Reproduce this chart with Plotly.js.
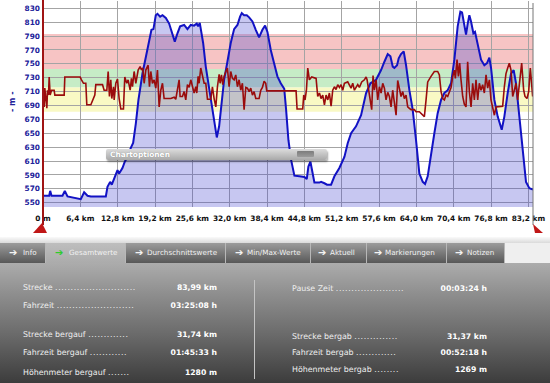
<!DOCTYPE html>
<html><head><meta charset="utf-8">
<script src="https://cdn.plot.ly/plotly-3.0.1.min.js"></script>
<style>
html,body{margin:0;padding:0;background:#fff;width:550px;height:383px;overflow:hidden;font-family:'DejaVu Sans',sans-serif;}
#chart{position:absolute;left:0;top:0;width:550px;height:240px;}
.strip{position:absolute;left:0;top:237px;width:550px;height:6px;background:linear-gradient(#fafafa,#dadada);}
.tabbar{position:absolute;left:0;top:243px;width:550px;height:20px;background:#efefef;}
.tab{position:absolute;top:0;height:20px;background:linear-gradient(#9c9c9c,#585858);border-right:1px solid #b8b8b8;box-sizing:border-box;}
.tab.active{background:linear-gradient(#bebebe,#ababab);}
.arr{position:absolute;top:2px;font-size:10px;line-height:16px;font-weight:bold;color:#f4f4f4;}
.arr.g{color:#2ecc2e;}
.tt{position:absolute;top:5px;font-size:7.2px;line-height:10px;color:#f2f2f2;white-space:nowrap;}
.panel{position:absolute;left:0;top:263px;width:550px;height:120px;background:linear-gradient(#acacac 0%,#8f8f8f 25%,#6a6a6a 60%,#3c3c3c 100%);}
.lab{position:absolute;font-size:7.9px;line-height:10px;color:#efefef;white-space:nowrap;}
.dots{letter-spacing:0.6px;}
.val{position:absolute;width:90px;font-size:7.7px;font-weight:bold;line-height:10px;color:#fff;text-align:right;white-space:nowrap;}
.sep{position:absolute;left:254px;top:280px;width:1px;height:99px;background:#c4c4c4;}
.opt{position:absolute;left:106px;top:149px;width:221px;height:11px;background:linear-gradient(#dcdcdc,#a9a9a9);border-radius:2px;box-shadow:1px 2px 2px rgba(0,0,0,0.35);}
.opt span{position:absolute;left:4px;top:1px;font-size:7.4px;line-height:9px;font-weight:bold;color:#fff;text-shadow:0 0 1px rgba(0,0,0,0.35);}
.opt .btn{position:absolute;left:191px;top:2px;width:17px;height:6px;background:linear-gradient(#7c7c7c,#9a9a9a);border-radius:1px;}
</style></head>
<body>
<div id="chart"></div>
<div class="opt"><span>Chartoptionen</span><div class="btn"></div></div>
<div class="strip"></div>
<div class="tabbar">
  <div class="tab" style="left:0;width:46px"><span class="arr" style="left:9px">➔</span><span class="tt" style="left:23px">Info</span></div>
  <div class="tab active" style="left:46px;width:80px"><span class="arr g" style="left:9px">➔</span><span class="tt" style="left:23px">Gesamtwerte</span></div>
  <div class="tab" style="left:126px;width:100px"><span class="arr" style="left:9px">➔</span><span class="tt" style="left:21px">Durchschnittswerte</span></div>
  <div class="tab" style="left:226px;width:85px"><span class="arr" style="left:9px">➔</span><span class="tt" style="left:21px">Min/Max-Werte</span></div>
  <div class="tab" style="left:311px;width:56px"><span class="arr" style="left:7px">➔</span><span class="tt" style="left:19px">Aktuell</span></div>
  <div class="tab" style="left:367px;width:80px"><span class="arr" style="left:7px">➔</span><span class="tt" style="left:18px">Markierungen</span></div>
  <div class="tab" style="left:447px;width:58px"><span class="arr" style="left:8px">➔</span><span class="tt" style="left:20px">Notizen</span></div>
</div>
<div class="panel"></div>
<div class="sep"></div>
<div class="lab" style="left:23px;top:283px">Strecke <span class="dots">..........................</span></div>
<div class="val" style="left:127px;top:283px">83,99 km</div>
<div class="lab" style="left:23px;top:301px">Fahrzeit <span class="dots">.........................</span></div>
<div class="val" style="left:127px;top:301px">03:25:08 h</div>
<div class="lab" style="left:23px;top:330px">Strecke bergauf <span class="dots">.............</span></div>
<div class="val" style="left:127px;top:330px">31,74 km</div>
<div class="lab" style="left:23px;top:348px">Fahrzeit bergauf <span class="dots">............</span></div>
<div class="val" style="left:127px;top:348px">01:45:33 h</div>
<div class="lab" style="left:23px;top:368px">Höhenmeter bergauf <span class="dots">.......</span></div>
<div class="val" style="left:127px;top:368px">1280 m</div>
<div class="lab" style="left:292px;top:284px">Pause Zeit <span class="dots">......................</span></div>
<div class="val" style="left:397px;top:284px">00:03:24 h</div>
<div class="lab" style="left:292px;top:332px">Strecke bergab <span class="dots">..............</span></div>
<div class="val" style="left:397px;top:332px">31,37 km</div>
<div class="lab" style="left:292px;top:348px">Fahrzeit bergab <span class="dots">.............</span></div>
<div class="val" style="left:397px;top:348px">00:52:18 h</div>
<div class="lab" style="left:292px;top:365px">Höhenmeter bergab <span class="dots">........</span></div>
<div class="val" style="left:397px;top:365px">1269 m</div>
<script>
// Distance ticks
var xTickVals = [0, 6.4, 12.8, 19.2, 25.6, 32.0, 38.4, 44.8, 51.2, 57.6, 64.0, 70.4, 76.8, 83.2];
var xTickText = ['0 m', '6,4 km', '12,8 km', '19,2 km', '25,6 km', '32,0 km', '38,4 km', '44,8 km', '51,2 km', '57,6 km', '64,0 km', '70,4 km', '76,8 km', '83,2 km'];
var yTickVals = [550, 570, 590, 610, 630, 650, 670, 690, 710, 730, 750, 770, 790, 810, 830];

// Elevation profile (km, m)
var elevKm = [0, 1.06, 1.23, 1.46, 3.34, 3.74, 4.20, 5.34, 6.48, 7.05, 7.63, 8.20, 10.77, 11.05, 11.51, 11.79, 12.08, 12.77, 13.05, 13.62, 14.02, 14.48, 15.05, 15.45, 15.91, 16.36, 17.05, 17.62, 18.19, 18.59, 18.93, 19.33, 19.62, 20.08, 20.48, 21.05, 21.62, 22.19, 22.59, 23.05, 23.50, 24.19, 24.76, 25.33, 25.90, 26.36, 26.59, 26.87, 27.04, 27.45, 27.90, 28.47, 28.87, 29.33, 29.79, 30.19, 30.64, 31.04, 31.61, 32.18, 32.76, 33.33, 33.78, 34.07, 34.47, 34.93, 35.33, 35.90, 36.47, 37.04, 37.61, 38.07, 38.47, 39.04, 39.61, 40.18, 40.75, 41.35, 41.67, 42.07, 42.52, 43.09, 43.95, 44.81, 45.21, 45.49, 45.84, 46.24, 46.52, 47.38, 47.66, 48.24, 48.69, 49.38, 49.95, 50.80, 51.66, 52.24, 52.81, 53.66, 54.52, 55.38, 56.12, 57.09, 57.95, 58.52, 59.09, 59.55, 59.95, 60.23, 60.69, 60.97, 61.37, 61.83, 62.23, 62.80, 63.37, 63.94, 64.51, 65.09, 65.49, 65.94, 66.51, 67.08, 67.65, 68.23, 68.80, 69.37, 69.94, 70.51, 71.08, 71.54, 71.83, 72.22, 72.51, 72.80, 73.08, 73.37, 73.77, 74.05, 74.51, 75.08, 75.65, 76.11, 76.51, 76.80, 77.37, 77.94, 78.63, 79.08, 79.65, 80.22, 80.68, 81.08, 81.65, 82.22, 82.79, 83.36, 83.99];
var elevM = [560, 560, 567, 560, 560, 567, 559, 557, 555, 565, 560, 559, 559, 573, 580, 576, 583, 597, 592, 600, 609, 616, 629, 636, 664, 698, 736, 758, 784, 799, 800, 820, 822, 818, 820, 816, 808, 794, 782, 794, 804, 806, 800, 806, 805, 808, 804, 809, 801, 780, 746, 717, 693, 669, 644, 660, 693, 727, 753, 780, 800, 806, 818, 823, 820, 820, 817, 811, 799, 788, 799, 805, 796, 770, 751, 732, 722, 714, 684, 640, 612, 589, 588, 587, 584, 602, 609, 588, 579, 579, 580, 578, 576, 576, 588, 600, 616, 636, 650, 660, 676, 708, 722, 727, 741, 753, 764, 761, 746, 744, 748, 758, 764, 768, 748, 712, 684, 640, 592, 580, 577, 588, 616, 650, 679, 698, 708, 712, 722, 756, 804, 825, 824, 806, 792, 808, 820, 811, 794, 796, 780, 756, 748, 751, 759, 744, 698, 674, 655, 674, 708, 736, 741, 722, 674, 626, 580, 571, 569];

// Second series (red), read on the same vertical scale
var hrKm = [0.09, 0.20, 0.31, 0.49, 0.66, 0.77, 0.94, 1.06, 1.23, 1.46, 1.91, 2.03, 3.63, 3.74, 6.37, 6.60, 6.94, 7.34, 7.51, 8.20, 8.48, 8.88, 9.05, 10.20, 10.48, 10.94, 11.17, 11.39, 11.62, 11.79, 12.08, 12.20, 12.48, 12.77, 13.05, 13.34, 13.79, 14.02, 14.36, 14.59, 14.94, 15.16, 15.34, 15.62, 15.91, 16.31, 16.65, 16.88, 17.11, 17.34, 17.62, 18.02, 18.25, 18.48, 18.76, 19.05, 19.33, 19.62, 19.91, 20.19, 20.48, 20.76, 21.90, 22.48, 22.76, 23.05, 23.33, 23.50, 23.90, 24.19, 24.47, 24.76, 25.05, 25.33, 25.62, 25.90, 26.19, 26.36, 26.59, 26.76, 27.04, 27.33, 27.62, 27.90, 28.19, 28.76, 29.04, 29.33, 29.62, 29.90, 30.19, 30.36, 30.59, 30.81, 31.04, 31.39, 31.61, 31.90, 32.18, 32.47, 32.76, 33.04, 33.33, 33.61, 33.90, 34.18, 34.47, 34.76, 35.04, 35.33, 35.61, 35.90, 36.18, 36.47, 37.04, 37.33, 37.61, 37.90, 38.18, 38.35, 43.38, 43.55, 44.52, 44.69, 44.92, 45.15, 45.38, 45.66, 46.06, 46.81, 47.09, 47.38, 47.66, 47.95, 48.24, 48.52, 48.81, 49.09, 49.38, 49.66, 49.95, 50.23, 50.52, 50.81, 51.09, 51.38, 51.66, 52.23, 52.52, 52.80, 53.09, 53.38, 53.66, 53.95, 54.23, 54.63, 55.09, 55.38, 55.55, 55.77, 56.00, 56.12, 56.34, 56.57, 56.80, 57.09, 57.37, 57.66, 57.95, 58.23, 58.52, 58.80, 59.09, 59.37, 59.66, 59.94, 60.23, 60.52, 60.80, 61.09, 61.37, 61.66, 61.94, 62.23, 62.51, 62.80, 63.09, 63.66, 63.94, 64.51, 64.80, 65.08, 65.37, 65.66, 65.94, 66.51, 67.08, 67.65, 67.94, 68.23, 68.51, 68.80, 69.08, 69.37, 69.65, 69.94, 70.23, 70.51, 70.68, 70.97, 71.20, 71.42, 71.65, 71.94, 72.22, 72.51, 72.79, 73.08, 73.37, 73.65, 73.94, 74.22, 74.51, 74.79, 75.08, 75.36, 75.65, 75.94, 76.22, 76.51, 76.79, 77.08, 77.37, 77.65, 78.51, 78.79, 79.08, 79.36, 79.65, 79.93, 80.22, 80.51, 80.79, 81.08, 81.36, 81.65, 82.05, 82.39, 82.62, 82.96, 83.25, 83.53, 83.76, 83.93];
var hrVal = [708, 688, 715, 703, 686, 712, 705, 731, 705, 712, 712, 705, 705, 731, 731, 727, 722, 722, 691, 691, 698, 705, 720, 720, 712, 712, 739, 703, 727, 700, 717, 698, 722, 728, 700, 685, 685, 731, 722, 727, 712, 729, 717, 739, 722, 741, 746, 741, 744, 722, 741, 748, 717, 739, 722, 727, 715, 741, 688, 712, 722, 700, 700, 702, 699, 712, 727, 703, 703, 710, 698, 720, 716, 727, 717, 708, 717, 708, 732, 722, 744, 732, 722, 722, 699, 699, 717, 700, 688, 717, 735, 722, 734, 720, 732, 740, 744, 717, 739, 729, 727, 734, 717, 727, 712, 722, 684, 716, 715, 710, 715, 705, 710, 700, 700, 712, 716, 725, 722, 711, 711, 685, 685, 705, 698, 712, 744, 727, 731, 729, 703, 708, 700, 705, 691, 705, 698, 708, 689, 712, 717, 713, 720, 716, 720, 712, 722, 724, 720, 715, 722, 712, 716, 720, 716, 724, 727, 731, 727, 716, 700, 698, 684, 733, 712, 727, 698, 717, 708, 722, 715, 698, 709, 703, 688, 712, 696, 676, 726, 715, 703, 710, 700, 705, 688, 686, 684, 684, 681, 681, 679, 676, 674, 698, 724, 732, 739, 739, 734, 710, 700, 698, 705, 703, 710, 716, 732, 741, 729, 756, 732, 751, 727, 703, 692, 688, 753, 710, 688, 722, 698, 727, 698, 722, 712, 720, 708, 734, 715, 727, 698, 686, 676, 688, 689, 689, 717, 736, 744, 751, 741, 703, 712, 722, 698, 722, 751, 712, 703, 700, 710, 744, 722, 703];

// Zone bands [from, to]
var zoneRed = [742.6, 793];
var zoneGreen = [716, 742.6];
var zoneYellow = [681, 716];

var traces = [
  {x: elevKm, y: elevM, type: 'scatter', mode: 'lines', fill: 'tozeroy',
   fillcolor: 'rgba(70,70,210,0.30)', line: {color: '#1212c4', width: 2}, hoverinfo: 'skip'},
  {x: hrKm, y: hrVal, type: 'scatter', mode: 'lines',
   line: {color: '#9a0c0c', width: 1.6}, hoverinfo: 'skip'}
];

function band(r, c) {
  return {type: 'rect', layer: 'below', xref: 'paper', x0: 0, x1: 1, yref: 'y', y0: r[0], y1: r[1],
          fillcolor: c, line: {width: 0}};
}

var layout = {
  width: 550, height: 240,
  margin: {l: 43, r: 17, t: 1, b: 33},
  paper_bgcolor: 'rgba(0,0,0,0)', plot_bgcolor: '#ffffff',
  showlegend: false,
  xaxis: {range: [0, 83.99], tickmode: 'array', tickvals: xTickVals, ticktext: xTickText,
          showgrid: true, gridcolor: '#a4a4a4', gridwidth: 1, zeroline: false, showline: false, ticks: '',
          ticklabelstandoff: 6,
          tickfont: {family: 'DejaVu Sans', size: 7.4, color: '#111111', weight: 'bold'}, fixedrange: true},
  yaxis: {range: [543.8, 840.5], tickmode: 'array', tickvals: yTickVals,
          showgrid: true, gridcolor: '#a4a4a4', gridwidth: 1, zeroline: false, showline: false, ticks: '',
          ticklabelstandoff: 2,
          tickfont: {family: 'DejaVu Sans', size: 7.4, color: '#22229a', weight: 'bold'}, fixedrange: true},
  shapes: [
    band(zoneRed, '#f7c4c4'),
    band(zoneGreen, '#c6ecc6'),
    band(zoneYellow, '#f9f9c4'),
    {type: 'line', xref: 'paper', x0: 0, x1: 0, yref: 'paper', ysizemode: 'pixel', yanchor: 0, y0: -18, y1: 207,
     line: {color: '#a01414', width: 2}},
    {type: 'path', xref: 'paper', yref: 'paper', xsizemode: 'pixel', ysizemode: 'pixel', xanchor: 0, yanchor: 0,
     path: 'M -1,-16 L -10,-26 L 4,-26 Z', fillcolor: '#c01616', line: {width: 0}},
    {type: 'line', xref: 'paper', x0: 1, x1: 1, yref: 'paper', ysizemode: 'pixel', yanchor: 0, y0: -18, y1: 204,
     line: {color: '#777777', width: 1}},
    {type: 'path', xref: 'paper', yref: 'paper', xsizemode: 'pixel', ysizemode: 'pixel', xanchor: 1, yanchor: 0,
     path: 'M 0,-17 L 10,-26 L 2,-26 Z', fillcolor: '#c01616', line: {width: 0}}
  ],
  annotations: [
    {text: '- m -', xref: 'paper', x: 0, xanchor: 'center', xshift: -31, yref: 'y', y: 695, yanchor: 'middle',
     textangle: -90, showarrow: false, font: {family: 'DejaVu Sans', size: 8, color: '#22229a', weight: 'bold'}}
  ]
};

Plotly.newPlot('chart', traces, layout, {displayModeBar: false, staticPlot: true});
</script>
</body></html>
